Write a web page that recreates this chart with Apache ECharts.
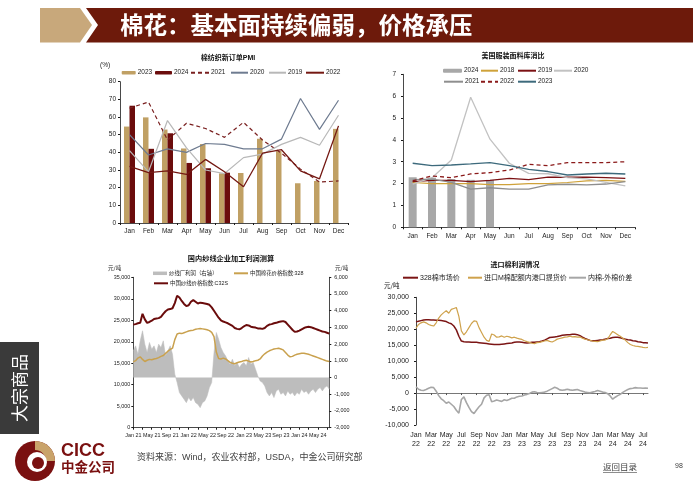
<!DOCTYPE html>
<html><head><meta charset="utf-8">
<script src="https://cdn.jsdelivr.net/npm/echarts@6/dist/echarts.min.js"></script>
<style>html,body{margin:0;padding:0;background:#fff}#c{width:700px;height:490px}</style>
</head><body><div id="c"></div><script>
const FONT = '"Liberation Sans","Noto Sans CJK SC",Arial,sans-serif';
const CJK = '"Noto Sans CJK SC","Liberation Sans",sans-serif';

// ---------- Chart 1: 棉纺织新订单PMI ----------
const pmiMonths = ['Jan','Feb','Mar','Apr','May','Jun','Jul','Aug','Sep','Oct','Nov','Dec'];
const pmi2023 = [54.6,59.8,52.9,42.2,44.7,28.1,28.3,47.7,40.7,22.5,23.8,53.3];
const pmi2024 = [66.4,42.0,50.8,34.0,31.0,28.5];
const pmi2021 = [65.0,68.5,47.0,56.5,53.5,48.5,57.0,47.0,39.5,30.5,23.2,23.8];
const pmi2020 = [50.0,38.5,42.0,40.0,45.0,44.5,42.0,42.0,47.5,70.5,53.0,69.5];
const pmi2019 = [41.0,29.0,58.0,42.5,30.0,28.0,37.0,39.0,44.5,48.5,44.0,61.0];
const pmi2022 = [32.0,28.5,29.5,27.5,36.0,29.0,20.5,39.5,41.5,29.5,25.0,55.0];

// ---------- Chart 2: 美国服装面料库消比 ----------
const invMonths = ['Jan','Feb','Mar','Apr','May','Jun','Jul','Aug','Sep','Oct','Nov','Dec'];
const inv2024 = [2.29,2.27,2.21,2.17,2.17];
const inv2018 = [2.05,2.00,2.00,2.00,1.95,1.95,2.00,2.00,2.05,2.12,2.15,2.10];
const inv2019 = [2.09,2.15,2.15,2.09,2.15,2.24,2.18,2.30,2.29,2.30,2.27,2.24];
const inv2020 = [1.98,2.27,3.08,5.95,4.03,2.93,2.47,2.45,2.27,2.22,2.06,1.90];
const inv2021 = [2.18,2.20,2.06,1.75,1.81,1.75,1.75,1.94,1.97,1.94,1.98,2.09];
const inv2022 = [2.12,2.35,2.27,2.44,2.50,2.62,2.88,2.82,2.96,2.96,2.96,3.00];
const inv2023 = [2.93,2.82,2.85,2.90,2.96,2.82,2.65,2.55,2.39,2.44,2.47,2.44];

// ---------- Chart 3: 国内纱线企业加工利润测算 (semi-monthly, Jan 21 - Jul 24) ----------
const yarnC32S = [
  24000,24100, 24300,24400, 26500,25200, 24400,24600, 24900,25300, 25400,25500,
  25800,26500, 27100,27500, 27600,27800, 29000,30700, 30300,29500, 28800,28300,
  28500,29300, 29700,29300, 28900,29100, 29000,28900, 28800,28600, 28000,27200,
  26400,25600, 25000,24700, 24500,24300, 24000,23700, 23200,23000, 22900,23200,
  23600,23900, 23800,23500, 23400,23300, 23100,23100, 23000,23200, 23700,24000,
  24100,24300, 24400,24600, 24700,24800, 24600,24000, 23400,22800, 22300,22400,
  22600,22900, 23200,23400, 23500,23400, 23200,23000, 22800,22600, 22400,22300,
  22100,21900
];
const cotton328 = [
  15300,15600, 16200,16500, 15900,15400, 15700,15900, 15800,16000, 16100,16300,
  16600,16800, 17300,17800, 18200,18500, 20500,21800, 22000,21900, 22100,22300,
  22500,22600, 22700,22900, 23000,23100, 23000,22900, 22800,22600, 22200,21200,
  17600,16100, 16000,16200, 16000,15600, 15200,15000, 14900,15100, 15300,15400,
  15600,15700, 15500,15300, 15400,15600, 15700,16000, 16700,17200, 17600,17900,
  18100,18300, 18400,18500, 18300,18100, 17500,16900, 16500,16600, 16900,17100,
  17200,17300, 17300,17200, 17100,16900, 16700,16500, 16300,16100, 15900,15700,
  15500,15400
];
const yarnProfit = [
  1600,1900, 1400,2200, 2800,2000, 1500,2100, 1700,1900, 1500,2000,
  1800,2200, 1300,1600, 1900,1400, 200,-300, -900,-1100, -1300,-1500,
  -1200,-1400, -1200,-1500, -1600,-1800, -1500,-1400, -1100,-600, -300,1500,
  2700,2300, 1800,1500, 1300,1000, 800,1100, 700,900, 600,800,
  900,700, 1200,800, 900,500, 100,-200, -300,-500, -900,-1100,
  -900,-1200, -800,-700, -1000,-900, -1100,-800, -1000,-900, -1100,-900,
  -1000,-700, -900,-800, -1000,-800, -700,-900, -700,-600, -800,-600,
  -500,-700
];

// ---------- Chart 4: 进口棉利润情况 (3 points per month, Jan 22 - Jul 24) ----------
const mkt328 = [
  22300,22500,22700, 22900,23000,23000, 22900,22900,22800, 22800,22700,22600,
  22400,22000,21700, 21000,19800,17800, 16300,16100,16000, 16000,15900,15900,
  15900,15800,15700, 15600,15500,15400, 15300,15200,15200, 15200,15300,15400,
  15500,15600,15700, 15900,16000,16000, 15900,15800,15700, 15800,15900,15900,
  16000,16100,16300, 16600,17000,17400, 17500,17600,17700, 17900,18100,18200,
  18300,18300,18400, 18400,18300,18000, 17500,17100,16800, 16500,16400,16400,
  16500,16600,16700, 16900,17100,17200, 17400,17500,17500, 17300,17100,16900,
  16700,16600,16400, 16300,16100,16000, 15800,15800,15700
];
const importM = [
  20300,21500,22000, 22300,22000,21500, 21200,21000,22000, 23500,24500,25200,
  25800,25000,26200, 26500,26800,24000, 19500,18200,19200, 20500,21800,22600,
  22500,20500,19000, 17500,16500,16200, 18500,18200,17500, 17600,17900,17500,
  17800,17600,17300, 17500,17200,17000, 16800,16400,16100, 15900,15600,15500,
  15800,15900,16100, 16300,16500,16200, 16000,16400,16900, 17100,17300,17500,
  17600,17800,17600, 17700,17500,17600, 17200,16900,16700, 16500,16300,16200,
  16100,16300,16600, 16600,17000,18200, 19300,18800,18300, 17800,17200,16600,
  15800,15200,14900, 14700,14600,14500, 14300,14200,14300
];
const priceSpread = [
  2000,1200,900, 800,1100,1500, 1800,1700,600, -800,-1800,-2400,
  -3200,-2800,-3500, -4200,-5400,-6300, -2000,-1200,-3000, -4500,-5800,-6400,
  -5300,-4300,-3500, -1500,-700,-500, -2700,-2500,-2200, -2400,-2600,-2100,
  -2300,-2000,-1600, -1600,-1200,-1000, -900,-600,-400, -100,300,400,
  200,100,200, 300,600,1000, 1400,1800,1500, 1000,900,1000,
  1200,1000,900, 1000,1100,800, 600,300,200, 100,300,500,
  800,600,300, 200,-200,-900, -1900,-1300,-800, -400,200,700,
  1100,1400,1500, 1700,1600,1600, 1500,1600,1500
];

const monthAbbr = ['Jan','Feb','Mar','Apr','May','Jun','Jul','Aug','Sep','Oct','Nov','Dec'];
function periodCats(y0, y1, lastMonth, perMonth) {
  const out = [];
  for (let y = y0; y <= y1; y++) {
    const mEnd = (y === y1) ? lastMonth : 12;
    for (let m = 0; m < mEnd; m++) for (let k = 0; k < perMonth; k++) out.push(monthAbbr[m] + ' ' + y + '|' + k);
  }
  return out;
}
const profitCats = periodCats(21, 24, 7, 2);
const importCats = periodCats(22, 24, 7, 3);

const BLACK = '#1a1a1a';
const axLine = {show:true, onZero:false, lineStyle:{color:BLACK, width:0.8}};
const noSplit = {show:false};

function leg(name, x, y, w, h, fs, isLine, extra) {
  const o = {
    data:[name], left:x, top:y - 4.5, orient:'horizontal', padding:0, itemGap:0,
    itemWidth:w, itemHeight:h, selectedMode:false,
    formatter: n => n.replace(/\u200b/g,''),
    textStyle:{fontSize:fs, fontFamily:FONT, color:'#222', lineHeight:9, padding:[0,0,0,-3]}
  };
  if (isLine) o.itemStyle = {opacity:0};
  return Object.assign(o, extra || {});
}

const Z = '\u200b';
const legends = [
  leg('2023', 121.7, 72.7, 14, 3.5, 6.5, false),
  leg('2024', 155, 72.7, 17, 3.5, 6.5, false),
  leg('2021', 190, 72.7, 18, 3.5, 6.5, true),
  leg('2020', 230, 72.7, 17, 3.5, 6.5, true),
  leg('2019', 268, 72.7, 17, 3.5, 6.5, true),
  leg('2022', 305, 72.7, 18, 3.5, 6.5, true),
  leg('2024' + Z, 443, 70.7, 19, 4, 6.5, false),
  leg('2018' + Z, 480, 70.7, 17, 4, 6.5, true),
  leg('2019' + Z, 517, 70.7, 18, 4, 6.5, true),
  leg('2020' + Z, 553, 70.7, 18, 4, 6.5, true),
  leg('2021' + Z, 443, 81.7, 19, 4, 6.5, true),
  leg('2022' + Z, 480, 81.7, 17, 4, 6.5, true),
  leg('2023' + Z, 517, 81.7, 18, 4, 6.5, true),
  leg('纱线厂利润（右轴）', 153, 273.3, 14, 3.5, 5.4, false, {data:[{name:'纱线厂利润（右轴）', icon:'rect', itemStyle:{color:'#bdbdbd', opacity:1}}]}),
  leg('中国棉花价格指数:328', 233, 273.3, 14, 3.5, 5.4, true),
  leg('中国纱线价格指数:C32S', 153, 283.3, 14, 3.5, 5.4, true),
  leg('328棉市场价', 402, 277.7, 15, 3, 7, true),
  leg('进口M棉配额内港口提货价', 467, 277.7, 14, 3, 7, true),
  leg('内棉-外棉价差', 568, 277.7, 17, 3, 7, true)
];

function lineS(name, xi, yi, data, color, width, dashed, extra) {
  return Object.assign({
    name, type:'line', xAxisIndex:xi, yAxisIndex:yi, data, symbol:'none', silent:true,
    lineStyle:{color, width, type: dashed ? [4,3] : 'solid'}, itemStyle:{color}
  }, extra || {});
}

const numFmt = v => v.toLocaleString('en-US');

function T(text, x, y, font, fill, align, extra) {
  return Object.assign({type:'text', silent:true, style:{text, x, y, font, fill: fill || '#222', textAlign: align || 'left', textVerticalAlign:'middle', verticalAlign:'middle'}}, extra || {});
}

const graphics = [
  // header
  {type:'polygon', shape:{points:[[40,8],[80,8],[92,25],[80,42.5],[40,42.5]]}, style:{fill:'#c8a87b'}},
  {type:'polygon', shape:{points:[[86,8],[693,8],[693,42.5],[86,42.5],[98,25]]}, style:{fill:'#6d1a0b'}},
  T('棉花：基本面持续偏弱，价格承压', 120, 25.5, 'bold 23.5px ' + CJK, '#ffffff'),
  // sidebar
  {type:'rect', shape:{x:0, y:342, width:39, height:92}, style:{fill:'#3a3a3a'}},
  {type:'text', x:20, y:388, rotation:Math.PI/2, silent:true, style:{text:'大宗商品', x:0, y:0, font:'17px ' + CJK, fill:'#ffffff', textAlign:'center', textVerticalAlign:'middle', verticalAlign:'middle'}},
  // logo
  {type:'circle', shape:{cx:35, cy:461, r:20}, style:{fill:'#7a1010'}},
  {type:'sector', shape:{cx:35, cy:461, r:20, r0:11, startAngle:-Math.PI/2, endAngle:0, clockwise:true}, style:{fill:'#c9a36a'}},
  {type:'circle', shape:{cx:37, cy:462, r:10}, style:{fill:'#ffffff'}},
  {type:'circle', shape:{cx:38, cy:463, r:6}, style:{fill:'#7a1010'}},
  T('CICC', 61, 451, 'bold 18px ' + FONT, '#7a1010'),
  T('中金公司', 61, 467, 'bold 13.5px ' + CJK, '#7a1010'),
  // footer
  T('资料来源：Wind，农业农村部，USDA，中金公司研究部', 137, 458, '9px ' + FONT, '#404040'),
  T('返回目录', 603, 467, '8.5px ' + CJK, '#404040'),
  {type:'line', shape:{x1:603, y1:472.5, x2:637, y2:472.5}, style:{stroke:'#404040', lineWidth:0.6}},
  T('98', 675, 466, '7px ' + FONT, '#404040'),
  // chart titles and units
  T('棉纺织新订单PMI', 228, 58, 'bold 7px ' + FONT, '#111', 'center'),
  T('(%)', 100, 65, '6.5px ' + FONT, '#222'),
  T('美国服装面料库消比', 513, 55, 'bold 7px ' + CJK, '#111', 'center'),
  T('国内纱线企业加工利润测算', 231, 258, 'bold 7.2px ' + CJK, '#111', 'center'),
  T('元/吨', 108, 268, '5.5px ' + CJK, '#222'),
  T('元/吨', 335, 268, '5.5px ' + CJK, '#222'),
  T('进口棉利润情况', 515, 264, 'bold 7px ' + CJK, '#111', 'center'),
  T('元/吨', 384, 286, '6.5px ' + CJK, '#222')
];

const option = {
  animation:false,
  backgroundColor:'#ffffff',
  textStyle:{fontFamily:FONT},
  graphic:graphics,
  legend:legends,
  grid:[
    {left:120, top:81.7, width:228, height:141.3},
    {left:403, top:74.3, width:232, height:153},
    {left:133.3, top:277.3, width:196, height:150.4},
    {left:416, top:297.3, width:232, height:127.7}
  ],
  xAxis:[
    {gridIndex:0, type:'category', data:pmiMonths, boundaryGap:true, axisLine:axLine,
     axisTick:{show:true, length:2, lineStyle:{color:BLACK}}, splitLine:noSplit,
     axisLabel:{fontSize:6.5, color:'#222', margin:5, fontFamily:FONT}},
    {gridIndex:1, type:'category', data:invMonths, boundaryGap:true, axisLine:axLine,
     axisTick:{show:true, length:2, lineStyle:{color:BLACK}}, splitLine:noSplit,
     axisLabel:{fontSize:6.5, color:'#222', margin:6, fontFamily:FONT}},
    {gridIndex:2, type:'category', data:profitCats, boundaryGap:false, axisLine:axLine,
     axisTick:{show:true, length:2, interval:3, lineStyle:{color:BLACK}}, splitLine:noSplit,
     axisLabel:{fontSize:5.4, color:'#222', margin:5, interval:7, hideOverlap:false, fontFamily:FONT, formatter:v => v.split('|')[0]}},
    {gridIndex:3, type:'category', data:importCats, boundaryGap:false, position:'bottom',
     axisLine:{show:false, onZero:false}, axisTick:{show:false}, splitLine:noSplit,
     axisLabel:{fontSize:7, color:'#222', margin:6, interval:5, hideOverlap:false, lineHeight:9, fontFamily:FONT, formatter:v => v.split('|')[0].replace(' ', '\n')}},
    {gridIndex:3, type:'category', data:importCats, boundaryGap:false, position:'top',
     axisLine:{show:true, onZero:true, lineStyle:{color:'#555', width:0.8}},
     axisTick:{show:true, length:2, inside:true, interval:5, lineStyle:{color:'#555'}},
     axisLabel:{show:false}, splitLine:noSplit}
  ],
  yAxis:[
    {gridIndex:0, type:'value', min:0, max:80, interval:10, axisLine:axLine,
     axisTick:{show:true, length:2, lineStyle:{color:BLACK}}, splitLine:noSplit,
     axisLabel:{fontSize:6.5, color:'#222', margin:4, fontFamily:FONT}},
    {gridIndex:1, type:'value', min:0, max:7, interval:1, axisLine:axLine,
     axisTick:{show:true, length:2, lineStyle:{color:BLACK}}, splitLine:noSplit,
     axisLabel:{fontSize:6.5, color:'#222', margin:7, fontFamily:FONT}},
    {gridIndex:2, type:'value', min:0, max:35000, interval:5000, position:'left', axisLine:axLine,
     axisTick:{show:true, length:2, lineStyle:{color:BLACK}}, splitLine:noSplit,
     axisLabel:{fontSize:5.4, color:'#222', margin:3, fontFamily:FONT, formatter:numFmt}},
    {gridIndex:2, type:'value', min:-3000, max:6000, interval:1000, position:'right', axisLine:axLine,
     axisTick:{show:true, length:2, lineStyle:{color:BLACK}}, splitLine:noSplit,
     axisLabel:{fontSize:5.4, color:'#222', margin:5, fontFamily:FONT, formatter:numFmt}},
    {gridIndex:3, type:'value', min:-10000, max:30000, interval:5000, axisLine:axLine,
     axisTick:{show:true, length:2, lineStyle:{color:BLACK}}, splitLine:noSplit,
     axisLabel:{fontSize:7, color:'#222', margin:7, fontFamily:FONT, formatter:numFmt}}
  ],
  series:[
    // chart 1
    {name:'2023', type:'bar', xAxisIndex:0, yAxisIndex:0, data:pmi2023, barWidth:5.5, barGap:'0%', itemStyle:{color:'#c0a064'}, silent:true},
    {name:'2024', type:'bar', xAxisIndex:0, yAxisIndex:0, data:pmi2024, barWidth:5.5, barGap:'0%', itemStyle:{color:'#6b0c0c'}, silent:true},
    lineS('2021', 0, 0, pmi2021, '#7a2020', 1.2, true),
    lineS('2020', 0, 0, pmi2020, '#6e7b90', 1.2),
    lineS('2019', 0, 0, pmi2019, '#b8b8b8', 1.2),
    lineS('2022', 0, 0, pmi2022, '#741812', 1.3),
    // chart 2
    {name:'2024' + Z, type:'bar', xAxisIndex:1, yAxisIndex:1, data:inv2024, barWidth:8, itemStyle:{color:'#a8a8a8'}, silent:true},
    lineS('2018' + Z, 1, 1, inv2018, '#cfa23a', 1.2),
    lineS('2019' + Z, 1, 1, inv2019, '#7b1113', 1.3),
    lineS('2020' + Z, 1, 1, inv2020, '#c2c2c2', 1.3),
    lineS('2021' + Z, 1, 1, inv2021, '#8e8e8e', 1.3),
    lineS('2022' + Z, 1, 1, inv2022, '#8b1a1a', 1.3, true),
    lineS('2023' + Z, 1, 1, inv2023, '#3d6a7c', 1.4),
    // chart 3
    lineS('纱线厂利润（右轴）', 2, 3, yarnProfit, '#bdbdbd', 0.5, false, {areaStyle:{color:'#bdbdbd', opacity:1}, z:1}),
    lineS('中国棉花价格指数:328', 2, 2, cotton328, '#c9a14e', 1.5),
    lineS('中国纱线价格指数:C32S', 2, 2, yarnC32S, '#6a0b0b', 2),
    // chart 4
    lineS('328棉市场价', 3, 4, mkt328, '#7b1515', 1.5),
    lineS('进口M棉配额内港口提货价', 3, 4, importM, '#cfa24c', 1.2),
    lineS('内棉-外棉价差', 3, 4, priceSpread, '#a6a6a6', 1.6)
  ]
};

const chart = echarts.init(document.getElementById('c'), null, {renderer:'canvas'});
chart.setOption(option);
</script></body></html>
